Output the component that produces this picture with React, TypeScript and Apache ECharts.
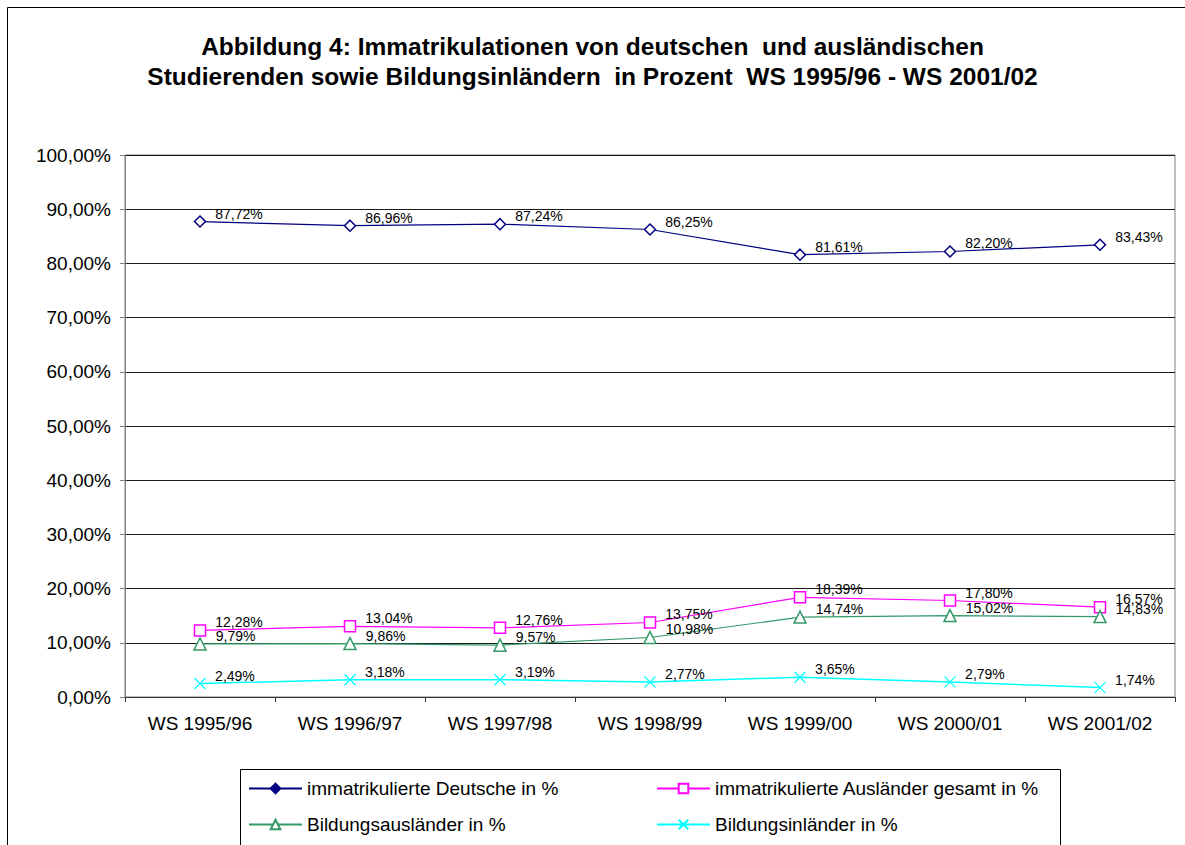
import React, { useEffect, useRef } from "react";
import * as echarts from "echarts";

const categories = ["WS 1995/96", "WS 1996/97", "WS 1997/98", "WS 1998/99", "WS 1999/00", "WS 2000/01", "WS 2001/02"];
const deutsche = [87.72, 86.96, 87.24, 86.25, 81.61, 82.2, 83.43];
const auslaenderGesamt = [12.28, 13.04, 12.76, 13.75, 18.39, 17.8, 16.57];
const bildungsauslaender = [9.79, 9.86, 9.57, 10.98, 14.74, 15.02, 14.83];
const bildungsinlaender = [2.49, 3.18, 3.19, 2.77, 3.65, 2.79, 1.74];
const seriesNames = [
  "immatrikulierte Deutsche in %",
  "immatrikulierte Ausländer gesamt in %",
  "Bildungsausländer in %",
  "Bildungsinländer in %",
];
const titleText = "Abbildung 4: Immatrikulationen von deutschen  und ausländischen\nStudierenden sowie Bildungsinländern  in Prozent  WS 1995/96 - WS 2001/02";

const FONT = "'Liberation Sans', Arial, sans-serif";
const fmt = (v: number) => v.toFixed(2).replace(".", ",") + "%";

export default function App() {
  const ref = useRef<HTMLDivElement>(null);
  useEffect(() => {
    if (!ref.current) return;
    const chart = echarts.init(ref.current, undefined, { renderer: "svg" });
    const label = {
      show: true,
      position: "right" as const,
      distance: 9,
      offset: [0, -8],
      color: "#000",
      fontSize: 14,
      fontFamily: FONT,
      formatter: (p: any) => fmt(p.value),
    };
    const mk = (name: string, data: number[], color: string, symbol: string, size: number, lw: number) => ({
      type: "line",
      name,
      data,
      symbol,
      symbolSize: size,
      showAllSymbol: true,
      lineStyle: { color, width: lw },
      itemStyle: { color: "#fff", borderColor: color, borderWidth: 1.5 },
      label,
      emphasis: { disabled: true },
    });
    const legendBase = {
      orient: "horizontal",
      padding: 0,
      itemWidth: 53,
      itemHeight: 12,
      selectedMode: false,
      textStyle: { fontSize: 19, fontFamily: FONT, color: "#000" },
    };
    chart.setOption({
      animation: false,
      backgroundColor: "#fff",
      textStyle: { fontFamily: FONT },
      title: {
        text: titleText,
        left: "center",
        top: 31,
        padding: 0,
        textStyle: { fontSize: 24.5, fontWeight: "bold", lineHeight: 30, fontFamily: FONT, color: "#000" },
      },
      grid: {
        left: 125,
        right: 10,
        top: 155,
        bottom: 148,
        show: true,
        borderColor: "#808080",
        borderWidth: 1,
        backgroundColor: "#fff",
      },
      xAxis: {
        type: "category",
        data: categories,
        boundaryGap: true,
        axisLine: { lineStyle: { color: "#333", width: 1 } },
        axisTick: { show: true, length: 5, lineStyle: { color: "#333" } },
        axisLabel: { fontSize: 19, color: "#000", fontFamily: FONT, margin: 17 },
      },
      yAxis: {
        type: "value",
        min: 0,
        max: 100,
        interval: 10,
        axisLine: { show: true, lineStyle: { color: "#808080", width: 1 } },
        axisTick: { show: true, length: 5, lineStyle: { color: "#808080" } },
        axisLabel: { fontSize: 19, color: "#000", fontFamily: FONT, margin: 14, formatter: (v: number) => fmt(v) },
        splitLine: { show: true, lineStyle: { color: "#1a1a1a", width: 1 } },
      },
      legend: [
        { ...legendBase, left: 248, top: 779, data: [{ name: seriesNames[0], itemStyle: { color: "#000080" } }] },
        { ...legendBase, left: 656, top: 779, data: [seriesNames[1]] },
        { ...legendBase, left: 248, top: 815, data: [seriesNames[2]] },
        { ...legendBase, left: 656, top: 815, data: [seriesNames[3]] },
      ],
      graphic: [
        {
          type: "rect",
          z: -10,
          shape: { x: 7.5, y: 7.5, width: 1200, height: 900 },
          style: { fill: "none", stroke: "#000", lineWidth: 1 },
          silent: true,
        },
        {
          type: "rect",
          shape: { x: 240.5, y: 769.5, width: 820, height: 200 },
          style: { fill: "none", stroke: "#000", lineWidth: 1 },
          silent: true,
        },
      ],
      series: [
        mk(seriesNames[0], deutsche, "#000080", "diamond", 11, 1.2),
        mk(seriesNames[1], auslaenderGesamt, "#FF00FF", "rect", 11, 1.2),
        mk(seriesNames[2], bildungsauslaender, "#339966", "triangle", 12, 1.2),
        {
          ...mk(seriesNames[3], bildungsinlaender, "#00FFFF", "path://M0,0L10,10M10,0L0,10", 11, 1.5),
          itemStyle: { color: "#00FFFF", borderColor: "#00FFFF", borderWidth: 1.2 },
        },
      ],
    });
    return () => chart.dispose();
  }, []);
  return <div ref={ref} style={{ position: "absolute", left: 0, top: 0, width: 1185, height: 845 }} />;
}
